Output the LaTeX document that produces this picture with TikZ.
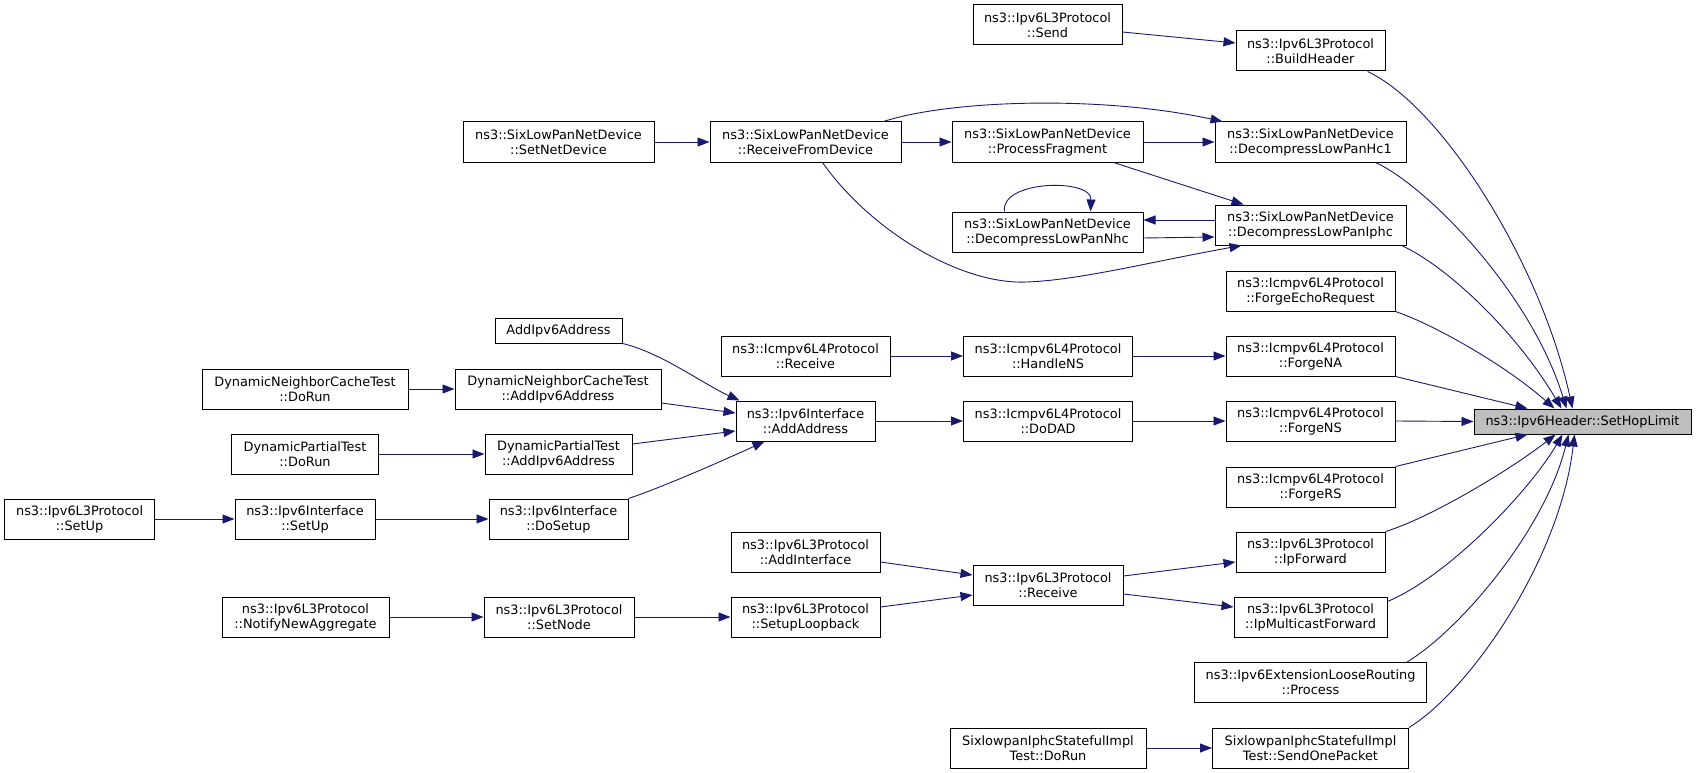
\documentclass[tikz,border=0pt]{standalone}
\usepackage{fontspec}
\setmainfont{DejaVu Sans}
\usetikzlibrary{arrows.meta}
\definecolor{mblue}{HTML}{191970}
\definecolor{hopgray}{HTML}{BFBFBF}
\begin{document}
\begin{tikzpicture}[x=1pt,y=-1pt,
  box/.style={draw=black, line width=1pt, fill=white, minimum height=40pt, inner sep=0pt, align=center, font=\fontsize{12.9}{15}\selectfont},
  edge/.style={draw=mblue, line width=0.9pt, -{Triangle[length=12pt,width=9pt]}, fill=none},
]
\useasboundingbox (0,0) rectangle (1696,773);
\fill[white] (0,0) rectangle (1696,773);

\node[box, minimum width=149pt] (send) at (1047.5,25) {ns3::Ipv6L3Protocol\\::Send};
\node[box, minimum width=149pt] (build) at (1310.5,51) {ns3::Ipv6L3Protocol\\::BuildHeader};
\node[box, minimum width=191pt] (setnet) at (558.5,142) {ns3::SixLowPanNetDevice\\::SetNetDevice};
\node[box, minimum width=191pt] (recv) at (805.5,142) {ns3::SixLowPanNetDevice\\::ReceiveFromDevice};
\node[box, minimum width=191pt] (frag) at (1047.5,142) {ns3::SixLowPanNetDevice\\::ProcessFragment};
\node[box, minimum width=191pt] (hc1) at (1310.5,142) {ns3::SixLowPanNetDevice\\::DecompressLowPanHc1};
\node[box, minimum width=191pt] (nhc) at (1047.5,232) {ns3::SixLowPanNetDevice\\::DecompressLowPanNhc};
\node[box, minimum width=191pt] (iphc) at (1310.5,225) {ns3::SixLowPanNetDevice\\::DecompressLowPanIphc};
\node[box, minimum width=169pt] (echo) at (1310.5,291) {ns3::Icmpv6L4Protocol\\::ForgeEchoRequest};
\node[box, minimum width=127pt, minimum height=25pt] (addip) at (558.5,330.5) {AddIpv6Address};
\node[box, minimum width=169pt] (icmprecv) at (805.5,356) {ns3::Icmpv6L4Protocol\\::Receive};
\node[box, minimum width=169pt] (ns) at (1048,356) {ns3::Icmpv6L4Protocol\\::HandleNS};
\node[box, minimum width=169pt] (na) at (1310.5,356) {ns3::Icmpv6L4Protocol\\::ForgeNA};
\node[box, minimum width=206pt] (dnctrun) at (305,389) {DynamicNeighborCacheTest\\::DoRun};
\node[box, minimum width=206pt] (dnctadd) at (558,389) {DynamicNeighborCacheTest\\::AddIpv6Address};
\node[box, minimum width=139pt] (addaddr) at (805.5,421) {ns3::Ipv6Interface\\::AddAddress};
\node[box, minimum width=169pt] (dad) at (1048,421) {ns3::Icmpv6L4Protocol\\::DoDAD};
\node[box, minimum width=169pt] (fns) at (1310.5,421) {ns3::Icmpv6L4Protocol\\::ForgeNS};
\node[box, fill=hopgray, minimum width=217pt, minimum height=25pt] (hop) at (1582.5,421.5) {ns3::Ipv6Header::SetHopLimit};
\node[box, minimum width=147pt] (dptrun) at (305,454) {DynamicPartialTest\\::DoRun};
\node[box, minimum width=147pt] (dptadd) at (558.5,454) {DynamicPartialTest\\::AddIpv6Address};
\node[box, minimum width=169pt] (frs) at (1310.5,487) {ns3::Icmpv6L4Protocol\\::ForgeRS};
\node[box, minimum width=150pt] (l3setup) at (79.6,519) {ns3::Ipv6L3Protocol\\::SetUp};
\node[box, minimum width=140pt] (ifsetup) at (305,519) {ns3::Ipv6Interface\\::SetUp};
\node[box, minimum width=139pt] (dosetup) at (558.5,519) {ns3::Ipv6Interface\\::DoSetup};
\node[box, minimum width=149pt] (addif) at (805.5,552) {ns3::Ipv6L3Protocol\\::AddInterface};
\node[box, minimum width=150pt] (l3recv) at (1048,585) {ns3::Ipv6L3Protocol\\::Receive};
\node[box, minimum width=149pt] (fwd) at (1310.5,552) {ns3::Ipv6L3Protocol\\::IpForward};
\node[box, minimum width=167pt] (notify) at (305.5,617) {ns3::Ipv6L3Protocol\\::NotifyNewAggregate};
\node[box, minimum width=150pt] (setnode) at (559,617) {ns3::Ipv6L3Protocol\\::SetNode};
\node[box, minimum width=149pt] (loop) at (805.5,617) {ns3::Ipv6L3Protocol\\::SetupLoopback};
\node[box, minimum width=153pt] (mfwd) at (1310.5,617) {ns3::Ipv6L3Protocol\\::IpMulticastForward};
\node[box, minimum width=232pt] (loose) at (1310.5,682.5) {ns3::Ipv6ExtensionLooseRouting\\::Process};
\node[box, minimum width=196pt] (sixrun) at (1048,748) {SixlowpanIphcStatefulImpl\\Test::DoRun};
\node[box, minimum width=196pt] (sendone) at (1310.5,748) {SixlowpanIphcStatefulImpl\\Test::SendOnePacket};

% edges into SetHopLimit
\draw[edge] ([xshift=-18pt]build.south east) .. controls (1440,105) and (1540,260) .. ([xshift=99pt]hop.north west);
\draw[edge] ([xshift=-31pt]hc1.south east) .. controls (1425,185) and (1530,290) .. ([xshift=93pt]hop.north west);
\draw[edge] ([xshift=-5pt]iphc.south east) .. controls (1445,265) and (1515,330) .. ([xshift=88pt]hop.north west);
\draw[edge] (echo.south east) .. controls (1435,325) and (1505,365) .. ([xshift=81pt]hop.north west);
\draw[edge] (na.south east) -- ([xshift=54pt]hop.north west);
\draw[edge] (fns.east) -- (hop.west);
\draw[edge] (frs.north east) -- ([xshift=54pt]hop.south west);
\draw[edge] (fwd.north east) .. controls (1430,518) and (1510,470) .. ([xshift=82pt]hop.south west);
\draw[edge] ([yshift=-5pt]mfwd.north east) .. controls (1450,575) and (1530,490) .. ([xshift=89pt]hop.south west);
\draw[edge] ([xshift=-20pt]loose.north east) .. controls (1460,630) and (1545,530) .. ([xshift=95pt]hop.south west);
\draw[edge] (sendone.north east) .. controls (1470,690) and (1560,560) .. ([xshift=101pt]hop.south west);

% top part
\draw[edge] ([yshift=-7pt]send.east) -- ([yshift=8pt]build.west);
\draw[edge] (setnet.east) -- (recv.west);
\draw[edge] (recv.east) -- (frag.west);
\draw[edge] (frag.east) -- (hc1.west);
\draw[edge] ([xshift=-18pt]recv.north east) .. controls (950,100) and (1100,95) .. ([xshift=8pt]hc1.north west);
\draw[edge] ([xshift=-30pt]frag.south east) -- ([xshift=29pt]iphc.north west);
\draw[edge] ([xshift=-79pt]recv.south east) .. controls (870,230) and (960,285) .. (1027,282) .. controls (1080,280) and (1150,262) .. ([xshift=27pt]iphc.south west);
\draw[edge] ([yshift=5pt]iphc.west) -- ([yshift=12pt]nhc.east);
\draw[edge] ([yshift=-6pt]nhc.east) -- ([yshift=-12pt]iphc.west);
\draw[edge] ([xshift=-43pt]nhc.north) .. controls (1000,180) and (1092,178) .. ([xshift=43pt]nhc.north);

% middle
\draw[edge] (icmprecv.east) -- (ns.west);
\draw[edge] (ns.east) -- (na.west);
\draw[edge] (addaddr.east) -- (dad.west);
\draw[edge] (dad.east) -- (fns.west);
\draw[edge] (dnctrun.east) -- (dnctadd.west);
\draw[edge] (dptrun.east) -- (dptadd.west);
\draw[edge] (l3setup.east) -- (ifsetup.west);
\draw[edge] (ifsetup.east) -- (dosetup.west);
\draw[edge] (addip.south east) .. controls (660,352) and (705,385) .. ([xshift=4pt]addaddr.north west);
\draw[edge] ([yshift=-14pt]dnctadd.east) -- ([yshift=8pt]addaddr.west);
\draw[edge] ([yshift=10pt]dptadd.east) -- ([yshift=-10pt]addaddr.west);
\draw[edge] (dosetup.north east) .. controls (660,488) and (720,462) .. ([xshift=29pt]addaddr.south west);

% bottom
\draw[edge] ([yshift=-10pt]addif.east) -- ([yshift=10pt]l3recv.west);
\draw[edge] ([yshift=10pt]loop.east) -- ([yshift=-10pt]l3recv.west);
\draw[edge] ([yshift=9pt]l3recv.east) -- ([yshift=-10pt]fwd.west);
\draw[edge] ([yshift=-9pt]l3recv.east) -- ([yshift=10pt]mfwd.west);
\draw[edge] (notify.east) -- (setnode.west);
\draw[edge] (setnode.east) -- (loop.west);
\draw[edge] (sixrun.east) -- (sendone.west);
\end{tikzpicture}
\end{document}
